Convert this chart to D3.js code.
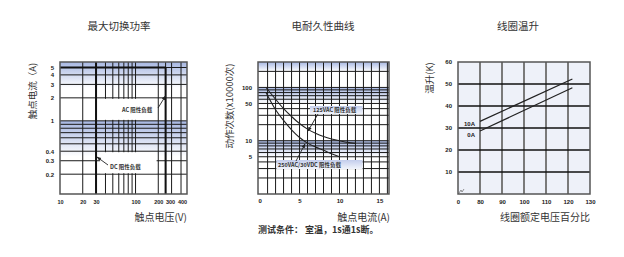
<!DOCTYPE html>
<html>
<head>
<meta charset="utf-8">
<script src="https://cdn.jsdelivr.net/npm/d3@7"></script>
<style>
  body { margin: 0; background: #fff; }
  svg { display: block; }
  .tick text { font-family: "Liberation Sans", Arial, sans-serif; font-weight: bold; font-size: 6px; fill: #1a1a1a; }
  .small .tick text { font-size: 5.5px; }
  .cjk { font-family: "Noto Sans CJK SC", sans-serif; fill: #333; }
</style>
</head>
<body>
<svg id="chart" width="624" height="257"></svg>
<script>
var svg, defs, addGrad, drawAxisLabels, arrow;

// ---- chart 1 : 最大切换功率 ----
var powerXTicks = [10, 20, 30, 100, 200, 300, 400];
var powerXGrid = [20, 30, 40, 50, 60, 70, 80, 90, 100, 200, 250, 300, 400];
var powerYTicks = [5, 4, 3, 2, 1, 0.4, 0.3, 0.2];
var powerYGrid = [5, 4, 3, 2, 1, 0.9, 0.8, 0.7, 0.6, 0.5, 0.4, 0.3, 0.2];
var acLimitV = 250, acLimitA = 5, dcLimitV = 30;

// ---- chart 2 : 电耐久性曲线 ----
var lifeXTicks = [0, 5, 10, 15];
var lifeXGrid = d3.range(1, 17);
var lifeYTicks = [100, 50, 10, 5];
var lifeYGrid = [2, 3, 4, 5, 6, 7, 8, 9, 10, 20, 30, 40, 50, 60, 70, 80, 90, 100, 200];
var life125 = [[0.8, 100], [2, 60], [3, 40], [4, 28.5], [5, 21], [6, 16.5], [7, 13.8], [8, 12], [9, 10.8], [10, 10], [11, 9.3], [12, 8.9]];
var life250 = [[0.8, 80], [2, 38], [3, 24], [4, 16], [5, 11.5], [6, 9], [7, 7.6], [8, 6.6], [9, 5.7], [10, 5]];

// ---- chart 3 : 线圈温升 ----
var riseXTicks = [70, 80, 90, 100, 110, 120, 130];
var riseYTicks = [10, 20, 30, 40, 50, 60];
var rise10A = [[80, 33], [122, 52.3]];
var rise0A = [[80, 28.6], [122, 48.3]];

svg = d3.select("#chart");
defs = svg.append("defs");

addGrad = function(id, top, bottom) {
  var g = defs.append("linearGradient").attr("id", id).attr("x1", 0).attr("y1", 0).attr("x2", 0).attr("y2", 1);
  g.append("stop").attr("offset", "0%").attr("stop-color", top);
  g.append("stop").attr("offset", "100%").attr("stop-color", bottom);
};
addGrad("band", "#a7b7e2", "#ffffff");
addGrad("box", "#c3cdec", "#f1f4fb");

var m = defs.append("marker").attr("id", "arr").attr("viewBox", "0 0 10 10").attr("refX", 9).attr("refY", 5)
  .attr("markerWidth", 5).attr("markerHeight", 5).attr("orient", "auto");
m.append("path").attr("d", "M0,1L10,5L0,9z").attr("fill", "#222");

arrow = function(g, x1, y1, x2, y2) {
  g.append("line").attr("x1", x1).attr("y1", y1).attr("x2", x2).attr("y2", y2)
    .attr("stroke", "#222").attr("stroke-width", 0.9).attr("marker-end", "url(#arr)");
};

drawAxisLabels = function(g, title, tx, xlabel, xlx, ylabel, ylx, yly) {
  svg.append("text").attr("class", "cjk").attr("x", tx).attr("y", 30).attr("text-anchor", "middle")
    .attr("font-size", 10.5).text(title);
  svg.append("text").attr("class", "cjk").attr("x", xlx).attr("y", 221).attr("text-anchor", "end")
    .attr("font-size", 10).text(xlabel);
  svg.append("text").attr("class", "cjk").attr("transform", "translate(" + ylx + "," + yly + ") rotate(-90)")
    .attr("text-anchor", "middle").attr("font-size", 9.5).text(ylabel);
};

// ================= chart 1 =================
(function() {
  var x, y, g, L = 60, R = 187, T = 62, B = 194;
  x = d3.scaleLog().domain([10, 480]).range([L, R]);
  y = d3.scaleLog().domain([0.11, 5.9]).range([B, T]);
  g = svg.append("g");
  g.append("rect").attr("x", L).attr("y", T).attr("width", R - L).attr("height", B - T).attr("fill", "#fff");
  g.append("rect").attr("x", L).attr("y", T).attr("width", R - L).attr("height", y(2.7) - T).attr("fill", "url(#band)");
  g.append("rect").attr("x", L).attr("y", y(1)).attr("width", R - L).attr("height", y(0.34) - y(1)).attr("fill", "url(#band)");
  g.selectAll(".vg").data(powerXGrid).enter().append("line")
    .attr("x1", function(d) { return x(d); }).attr("x2", function(d) { return x(d); })
    .attr("y1", T).attr("y2", B).attr("stroke", "#1a1a1a").attr("stroke-width", 1);
  g.selectAll(".hg").data(powerYGrid).enter().append("line")
    .attr("x1", L).attr("x2", R)
    .attr("y1", function(d) { return y(d); }).attr("y2", function(d) { return y(d); })
    .attr("stroke", "#1a1a1a").attr("stroke-width", 1);
  // label boxes
  g.append("rect").attr("x", x(38)).attr("y", y(2) + 1).attr("width", x(190) - x(38)).attr("height", y(1) - y(2) - 2).attr("fill", "#fff");
  g.append("rect").attr("x", x(34)).attr("y", y(0.4) + 1).attr("width", x(190) - x(34)).attr("height", y(0.2) - y(0.4) - 2).attr("fill", "#fff");
  // limit lines
  g.append("line").attr("x1", x(dcLimitV)).attr("x2", x(dcLimitV)).attr("y1", T).attr("y2", B).attr("stroke", "#111").attr("stroke-width", 2);
  g.append("line").attr("x1", L).attr("x2", x(acLimitV)).attr("y1", y(acLimitA)).attr("y2", y(acLimitA)).attr("stroke", "#111").attr("stroke-width", 2);
  g.append("line").attr("x1", x(acLimitV)).attr("x2", x(acLimitV)).attr("y1", y(acLimitA)).attr("y2", B).attr("stroke", "#111").attr("stroke-width", 2);
  g.append("rect").attr("x", L).attr("y", T).attr("width", R - L).attr("height", B - T).attr("fill", "none").attr("stroke", "#555").attr("stroke-width", 1.5);
  g.append("text").attr("class", "cjk").attr("x", 122).attr("y", 112).attr("font-size", 5.5).attr("font-weight", "bold").attr("fill", "#222").text("AC 阻性负载");
  arrow(g, 158, 108, 165.5, 96);
  g.append("text").attr("class", "cjk").attr("x", 110).attr("y", 168.5).attr("font-size", 5.5).attr("font-weight", "bold").attr("fill", "#222").text("DC 阻性负载");
  arrow(g, 108, 165, 97, 157);
  svg.append("g").attr("class", "small").attr("transform", "translate(0," + (B + 3) + ")")
    .call(d3.axisBottom(x).tickValues(powerXTicks).tickSize(0).tickFormat(d3.format("d")))
    .call(function(a) {
      a.select(".domain").remove();
      // keep the crowded 300 / 400 labels apart
      a.selectAll(".tick text").attr("dx", function(d) { return d === 300 ? -1.5 : d === 400 ? 1 : 0; });
    });
  svg.append("g").attr("transform", "translate(" + (L - 3) + ",0)")
    .call(d3.axisLeft(y).tickValues(powerYTicks).tickSize(0).tickFormat(function(d) { return d; }))
    .call(function(a) { a.select(".domain").remove(); });
  drawAxisLabels(g, "最大切换功率", 119, "触点电压(V)", 187, "触点电流（A)", 36, 91);
})();

// ================= chart 2 =================
(function() {
  var x, y, g, line, L = 258, R = 389, T = 62, B = 194;
  x = d3.scaleLinear().domain([-0.2, 16.2]).range([L, R]);
  y = d3.scaleLog().domain([1, 300]).range([B, T]);
  g = svg.append("g");
  g.append("rect").attr("x", L).attr("y", T).attr("width", R - L).attr("height", B - T).attr("fill", "#fff");
  g.append("rect").attr("x", L).attr("y", T).attr("width", R - L).attr("height", y(200) - T).attr("fill", "url(#band)");
  g.append("rect").attr("x", L).attr("y", y(100)).attr("width", R - L).attr("height", y(50) - y(100)).attr("fill", "url(#band)");
  g.append("rect").attr("x", L).attr("y", y(10)).attr("width", R - L).attr("height", y(5) - y(10)).attr("fill", "url(#band)");
  g.selectAll(".vg").data(lifeXGrid).enter().append("line")
    .attr("x1", function(d) { return x(d); }).attr("x2", function(d) { return x(d); })
    .attr("y1", T).attr("y2", B).attr("stroke", "#1a1a1a").attr("stroke-width", 1);
  g.selectAll(".hg").data(lifeYGrid).enter().append("line")
    .attr("x1", L).attr("x2", R)
    .attr("y1", function(d) { return y(d); }).attr("y2", function(d) { return y(d); })
    .attr("stroke", "#1a1a1a").attr("stroke-width", 1);
  // label boxes
  g.append("rect").attr("x", x(6.3)).attr("y", 106).attr("width", x(12.9) - x(6.3)).attr("height", 8).attr("fill", "url(#box)");
  g.append("rect").attr("x", x(2.1)).attr("y", 160).attr("width", x(12.9) - x(2.1)).attr("height", 9).attr("fill", "url(#box)");
  line = d3.line().x(function(d) { return x(d[0]); }).y(function(d) { return y(d[1]); }).curve(d3.curveMonotoneX);
  g.append("path").datum(life125).attr("d", line).attr("fill", "none").attr("stroke", "#222").attr("stroke-width", 1.1);
  g.append("path").datum(life250).attr("d", line).attr("fill", "none").attr("stroke", "#222").attr("stroke-width", 1.1);
  g.append("rect").attr("x", L).attr("y", T).attr("width", R - L).attr("height", B - T).attr("fill", "none").attr("stroke", "#555").attr("stroke-width", 1.5);
  g.append("text").attr("class", "cjk").attr("x", 313).attr("y", 112.3).attr("font-size", 5.5).attr("font-weight", "bold").attr("fill", "#222").text("125VAC 阻性负载");
  arrow(g, 318, 114, 308, 131);
  g.append("text").attr("class", "cjk").attr("x", 278).attr("y", 167).attr("font-size", 5.5).attr("font-weight", "bold").attr("fill", "#222").text("250VAC/30VDC 阻性负载");
  arrow(g, 296, 161, 305, 144);
  svg.append("g").attr("transform", "translate(0," + (B + 2) + ")")
    .call(d3.axisBottom(x).tickValues(lifeXTicks).tickSize(0))
    .call(function(a) { a.select(".domain").remove(); });
  svg.append("g").attr("transform", "translate(" + (L - 3) + ",0)")
    .call(d3.axisLeft(y).tickValues(lifeYTicks).tickSize(0).tickFormat(d3.format("d")))
    .call(function(a) { a.select(".domain").remove(); });
  drawAxisLabels(g, "电耐久性曲线", 323, "触点电流(A)", 390, "动作次数(x10000次)", 233, 106);
  svg.append("text").attr("class", "cjk").attr("x", 258).attr("y", 233).attr("font-size", 9).attr("font-weight", "bold")
    .attr("fill", "#222").text("测试条件： 室温，1s通1s断。");
})();

// ================= chart 3 =================
(function() {
  var x, y, g, line, L = 458, R = 590, T = 62, B = 194;
  x = d3.scaleLinear().domain([70, 130]).range([L, R]);
  y = d3.scaleLinear().domain([0, 60]).range([B, T]);
  g = svg.append("g");
  g.append("rect").attr("x", L).attr("y", T).attr("width", R - L).attr("height", B - T).attr("fill", "#eef1f9");
  g.selectAll(".vg").data(riseXTicks.slice(1, -1)).enter().append("line")
    .attr("x1", function(d) { return x(d); }).attr("x2", function(d) { return x(d); })
    .attr("y1", T).attr("y2", B).attr("stroke", "#7a7a7a").attr("stroke-width", 2);
  g.selectAll(".hg").data(riseYTicks.slice(0, -1)).enter().append("line")
    .attr("x1", L).attr("x2", R)
    .attr("y1", function(d) { return y(d); }).attr("y2", function(d) { return y(d); })
    .attr("stroke", "#111").attr("stroke-width", 1.5);
  g.append("rect").attr("x", L).attr("y", T).attr("width", R - L).attr("height", B - T).attr("fill", "none").attr("stroke", "#555").attr("stroke-width", 1.5);
  line = d3.line().x(function(d) { return x(d[0]); }).y(function(d) { return y(d[1]); });
  g.append("path").datum(rise10A).attr("d", line).attr("fill", "none").attr("stroke", "#222").attr("stroke-width", 1.2);
  g.append("path").datum(rise0A).attr("d", line).attr("fill", "none").attr("stroke", "#222").attr("stroke-width", 1.2);
  g.append("text").attr("x", 475).attr("y", 126).attr("text-anchor", "end").attr("font-family", "Liberation Sans, Arial").attr("font-weight", "bold").attr("font-size", 6).attr("fill", "#1a1a1a").text("10A");
  g.append("text").attr("x", 475).attr("y", 137).attr("text-anchor", "end").attr("font-family", "Liberation Sans, Arial").attr("font-weight", "bold").attr("font-size", 6).attr("fill", "#1a1a1a").text("0A");
  // axis break mark
  g.append("path").attr("d", "M" + (L + 1) + "," + (B - 1) + "l2,-3l1,2l2,-3").attr("fill", "none").attr("stroke", "#777").attr("stroke-width", 0.8);
  svg.append("g").attr("transform", "translate(0," + (B + 3) + ")")
    .call(d3.axisBottom(x).tickValues(riseXTicks).tickSize(0).tickFormat(function(d) { return d === 70 ? "0" : d; }))
    .call(function(a) { a.select(".domain").remove(); });
  svg.append("g").attr("transform", "translate(" + (L - 3) + ",0)")
    .call(d3.axisLeft(y).tickValues(riseYTicks).tickSize(0))
    .call(function(a) { a.select(".domain").remove(); });
  drawAxisLabels(g, "线圈温升", 518, "线圈额定电压百分比", 590, "温升(K)", 433, 78);
})();
</script>
</body>
</html>
